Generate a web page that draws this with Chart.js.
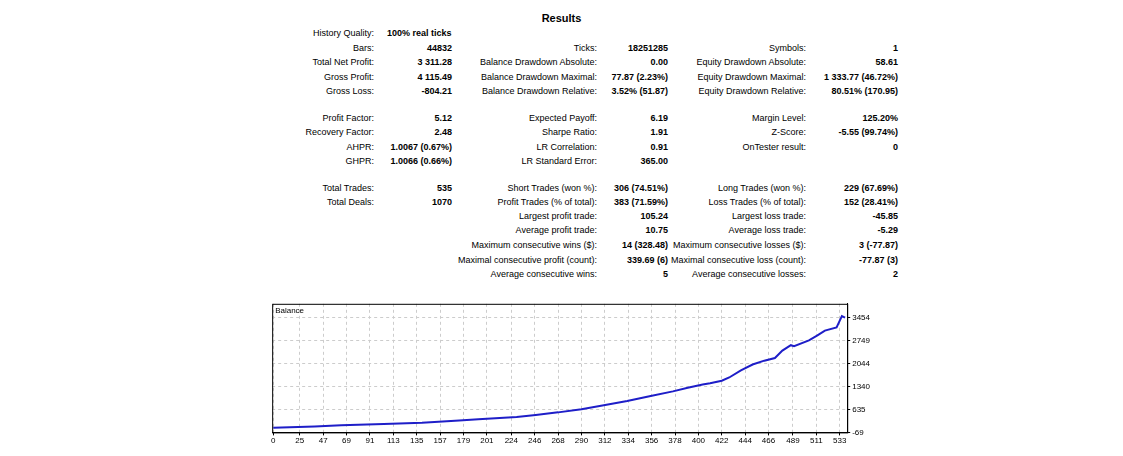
<!DOCTYPE html>
<html><head><meta charset="utf-8">
<script src="https://cdn.jsdelivr.net/npm/chart.js@4"></script>
<style>
body{margin:0;background:#fff;font-family:"Liberation Sans",sans-serif;}
.t{position:absolute;font-size:9px;color:#000;white-space:nowrap;line-height:10px}
.l{text-align:right}
.v{text-align:right;font-weight:bold}
#wrap{position:absolute;left:270px;top:297px;width:604px;height:150px}
</style></head><body>
<div class="t" style="left:0;width:1123px;text-align:center;top:13px;font-weight:bold;font-size:11px">Results</div>
<div id="txt"></div>
<div id="wrap"><canvas id="c"></canvas></div>
<script>
const tradeIdx=[0,39,64,104,140,175,193,229,247,268,290,311,333,354,376,390,404,411,422,429,440,451,462,472,479,487,490,504,512,519,530,535,538];
const balance=[70,110,150,189,229,298,338,407,467,546,645,764,893,1042,1191,1300,1399,1439,1518,1617,1836,2014,2133,2213,2441,2609,2580,2758,2907,3056,3155,3502,3453];
const xTicks=[0,25,47,69,91,113,135,157,179,201,224,246,268,290,312,334,356,378,400,422,444,466,489,511,533];
const yTicks=[-69,635,1340,2044,2749,3454];
const rows=[
[28,"History Quality:","100% real ticks","","","",""],
[43,"Bars:","44832","Ticks:","18251285","Symbols:","1"],
[57,"Total Net Profit:","3 311.28","Balance Drawdown Absolute:","0.00","Equity Drawdown Absolute:","58.61"],
[72,"Gross Profit:","4 115.49","Balance Drawdown Maximal:","77.87 (2.23%)","Equity Drawdown Maximal:","1 333.77 (46.72%)"],
[86,"Gross Loss:","-804.21","Balance Drawdown Relative:","3.52% (51.87)","Equity Drawdown Relative:","80.51% (170.95)"],
[113,"Profit Factor:","5.12","Expected Payoff:","6.19","Margin Level:","125.20%"],
[127,"Recovery Factor:","2.48","Sharpe Ratio:","1.91","Z-Score:","-5.55 (99.74%)"],
[142,"AHPR:","1.0067 (0.67%)","LR Correlation:","0.91","OnTester result:","0"],
[156,"GHPR:","1.0066 (0.66%)","LR Standard Error:","365.00","",""],
[183,"Total Trades:","535","Short Trades (won %):","306 (74.51%)","Long Trades (won %):","229 (67.69%)"],
[197,"Total Deals:","1070","Profit Trades (% of total):","383 (71.59%)","Loss Trades (% of total):","152 (28.41%)"],
[211,"","","Largest profit trade:","105.24","Largest loss trade:","-45.85"],
[225,"","","Average profit trade:","10.75","Average loss trade:","-5.29"],
[240,"","","Maximum consecutive wins ($):","14 (328.48)","Maximum consecutive losses ($):","3 (-77.87)"],
[255,"","","Maximal consecutive profit (count):","339.69 (6)","Maximal consecutive loss (count):","-77.87 (3)"],
[269,"","","Average consecutive wins:","5","Average consecutive losses:","2"]];
const cols=[[374,"l"],[452,"v"],[597,"l"],[668,"v"],[806,"l"],[898,"v"]];
let h="";
rows.forEach(r=>{for(let i=0;i<6;i++){if(!r[i+1])continue;const right=cols[i][0];
if(r[0]===28&&i===1){h+=`<div class="t" style="font-weight:bold;left:387px;top:${r[0]}px">${r[2]}</div>`;continue;}
h+=`<div class="t ${cols[i][1]}" style="right:${1123-right}px;top:${r[0]}px">${r[i+1]}</div>`;}});
document.getElementById('txt').innerHTML=h;
Chart.defaults.font.family='Liberation Sans';
new Chart(document.getElementById('c'),{type:'line',
data:{datasets:[{data:tradeIdx.map((x,i)=>({x,y:balance[i]})),borderColor:'#1e1ec8',borderWidth:2,pointRadius:0,tension:0}]},
options:{responsive:true,maintainAspectRatio:false,animation:false,
layout:{padding:{top:2,right:2}},
plugins:{legend:{display:false},tooltip:{enabled:false}},
scales:{
x:{type:'linear',min:-1,max:540,afterBuildTicks:a=>{a.ticks=xTicks.map(v=>({value:v}))},
 ticks:{autoSkip:false,maxRotation:0,font:{size:8},color:'#000',padding:1},
 grid:{color:'#ccc',tickLength:3,tickColor:'#000'},border:{dash:[3,3],color:'#000'}},
y:{position:'right',min:-69,max:3879,afterBuildTicks:a=>{a.ticks=yTicks.map(v=>({value:v}))},
 ticks:{font:{size:8},color:'#000',padding:2,callback:v=>String(v)},
 grid:{color:'#ccc',tickLength:3,tickColor:'#000'},border:{dash:[3,3],color:'#000'}}}},
plugins:[{id:'frame',afterDraw(c){const a=c.chartArea,x=c.ctx;x.save();x.strokeStyle='#000';x.lineWidth=1;x.setLineDash([]);x.strokeRect(a.left+.5,a.top+.5,a.width,a.height);x.font='8px Liberation Sans';x.fillStyle='#000';x.fillText('Balance',a.left+3,a.top+9);x.restore();}}]
});
</script>
</body></html>
